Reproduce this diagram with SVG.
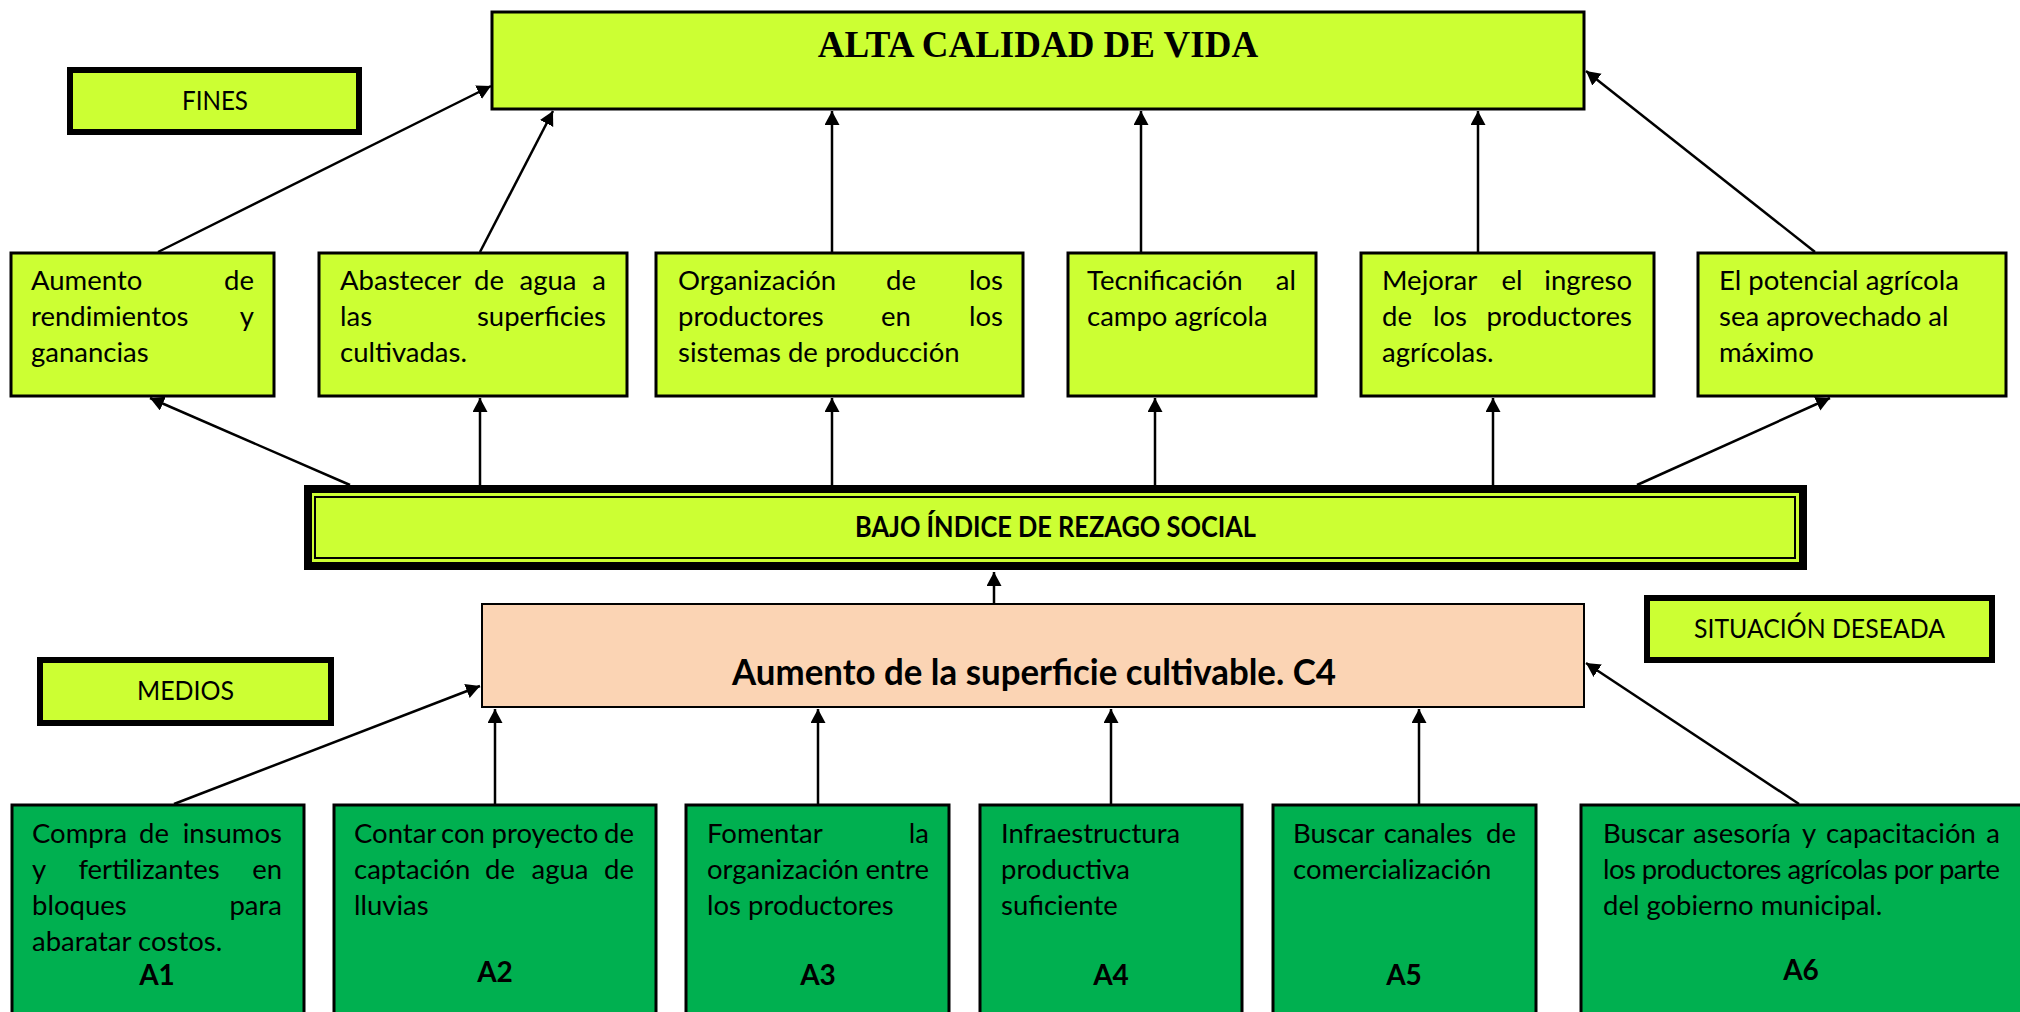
<svg xmlns="http://www.w3.org/2000/svg" width="2020" height="1012" viewBox="0 0 2020 1012">
<defs>
<marker id="ah" markerUnits="userSpaceOnUse" markerWidth="16" markerHeight="16" refX="14" refY="7.5" orient="auto">
<path d="M0,0 L14,7.5 L0,15 z" fill="#000"/>
</marker>
<style>
.lime{fill:#CCFF33;stroke:#000;stroke-width:3}
.grn{fill:#00B050;stroke:#000;stroke-width:3}
.tag{fill:#CCFF33;stroke:#000;stroke-width:6}
.t{font-family:Lato,"Open Sans",sans-serif;font-size:27.5px;fill:#000}
.b{font-family:Lato,"Open Sans",sans-serif;font-size:28px;font-weight:bold;fill:#000}
.e{text-anchor:end}
.m{text-anchor:middle}
.c line{stroke:#000;stroke-width:2.5;marker-end:url(#ah)}
</style>
</defs>
<rect width="2020" height="1012" fill="#fff"/>

<g id="connectors" class="c">
<line x1="158" y1="252" x2="491" y2="86"/>
<line x1="480" y1="252" x2="553" y2="111"/>
<line x1="832" y1="252" x2="832" y2="111"/>
<line x1="1141" y1="252" x2="1141" y2="111"/>
<line x1="1478" y1="252" x2="1478" y2="111"/>
<line x1="1815" y1="252" x2="1586" y2="71"/>
<line x1="350" y1="485" x2="150" y2="398"/>
<line x1="480" y1="485" x2="480" y2="398"/>
<line x1="832" y1="485" x2="832" y2="398"/>
<line x1="1155" y1="485" x2="1155" y2="398"/>
<line x1="1493" y1="485" x2="1493" y2="398"/>
<line x1="1637" y1="485" x2="1830" y2="398"/>
<line x1="994" y1="603" x2="994" y2="572"/>
<line x1="174" y1="804" x2="480" y2="686"/>
<line x1="495" y1="804" x2="495" y2="709"/>
<line x1="818" y1="804" x2="818" y2="709"/>
<line x1="1111" y1="804" x2="1111" y2="709"/>
<line x1="1419" y1="804" x2="1419" y2="709"/>
<line x1="1799" y1="804" x2="1586" y2="663"/>
</g>

<g id="alta">
<rect class="lime" x="492" y="12" width="1092" height="97"/>
<text x="1038" y="57" text-anchor="middle" font-family="'Liberation Serif',serif" font-weight="bold" font-size="37">ALTA CALIDAD DE VIDA</text>
</g>

<g id="fines">
<rect class="tag" x="70" y="70" width="289" height="62"/>
<text class="t" x="182" y="110" textLength="66" lengthAdjust="spacingAndGlyphs">FINES</text>
</g>

<g id="f1">
<rect class="lime" x="11" y="253" width="263" height="143"/>
<text class="t" x="31" y="290">Aumento</text><text class="t e" x="254" y="290">de</text>
<text class="t" x="31" y="326">rendimientos</text><text class="t e" x="254" y="326">y</text>
<text class="t" x="31" y="362">ganancias</text>
</g>

<g id="f2">
<rect class="lime" x="319" y="253" width="308" height="143"/>
<text class="t" x="340" y="290">Abastecer</text><text class="t m" x="489" y="290">de</text><text class="t m" x="548" y="290">agua</text><text class="t e" x="606" y="290">a</text>
<text class="t" x="340" y="326">las</text><text class="t e" x="606" y="326">superficies</text>
<text class="t" x="340" y="362">cultivadas.</text>
</g>

<g id="f3">
<rect class="lime" x="656" y="253" width="367" height="143"/>
<text class="t" x="678" y="290">Organización</text><text class="t m" x="901" y="290">de</text><text class="t e" x="1003" y="290">los</text>
<text class="t" x="678" y="326">productores</text><text class="t m" x="896" y="326">en</text><text class="t e" x="1003" y="326">los</text>
<text class="t" x="678" y="362">sistemas de producción</text>
</g>

<g id="f4">
<rect class="lime" x="1068" y="253" width="248" height="143"/>
<text class="t" x="1087" y="290">Tecnificación</text><text class="t e" x="1296" y="290">al</text>
<text class="t" x="1087" y="326">campo agrícola</text>
</g>

<g id="f5">
<rect class="lime" x="1361" y="253" width="293" height="143"/>
<text class="t" x="1382" y="290">Mejorar</text><text class="t m" x="1512" y="290">el</text><text class="t e" x="1632" y="290">ingreso</text>
<text class="t" x="1382" y="326">de</text><text class="t m" x="1450" y="326">los</text><text class="t e" x="1632" y="326">productores</text>
<text class="t" x="1382" y="362">agrícolas.</text>
</g>

<g id="f6">
<rect class="lime" x="1698" y="253" width="308" height="143"/>
<text class="t" x="1719" y="290">El potencial agrícola</text>
<text class="t" x="1719" y="326">sea aprovechado al</text>
<text class="t" x="1719" y="362">máximo</text>
</g>

<g id="bajo">
<rect x="308" y="489" width="1495" height="77" fill="#CCFF33" stroke="#000" stroke-width="8"/>
<rect x="315" y="497" width="1480" height="61" fill="none" stroke="#000" stroke-width="2"/>
<text class="b" x="855" y="537" textLength="401" lengthAdjust="spacingAndGlyphs">BAJO  ÍNDICE DE REZAGO SOCIAL</text>
</g>

<g id="situacion">
<rect class="tag" x="1647" y="598" width="345" height="62"/>
<text class="t" x="1694" y="638" textLength="251" lengthAdjust="spacingAndGlyphs">SITUACIÓN DESEADA</text>
</g>

<g id="medios">
<rect class="tag" x="40" y="660" width="291" height="63"/>
<text class="t" x="137" y="700" textLength="97" lengthAdjust="spacingAndGlyphs">MEDIOS</text>
</g>

<g id="c4">
<rect x="482" y="604" width="1102" height="103" fill="#FBD4B4" stroke="#000" stroke-width="2"/>
<text class="b" x="732" y="685" style="font-size:36px" textLength="604" lengthAdjust="spacingAndGlyphs">Aumento de la superficie cultivable. C4</text>
</g>

<g id="a1">
<rect class="grn" x="12" y="805" width="292" height="230"/>
<text class="t" x="32" y="843">Compra</text><text class="t m" x="154" y="843">de</text><text class="t e" x="282" y="843">insumos</text>
<text class="t" x="32" y="879">y</text><text class="t m" x="149" y="879">fertilizantes</text><text class="t e" x="282" y="879">en</text>
<text class="t" x="32" y="915">bloques</text><text class="t e" x="282" y="915">para</text>
<text class="t" x="32" y="951">abaratar costos.</text>
<text class="b m" x="157" y="985">A1</text>
</g>

<g id="a2">
<rect class="grn" x="334" y="805" width="322" height="230"/>
<text class="t" x="354" y="843">Contar</text><text class="t m" x="463" y="843">con</text><text class="t m" x="545" y="843">proyecto</text><text class="t e" x="634" y="843">de</text>
<text class="t" x="354" y="879">captación</text><text class="t m" x="500" y="879">de</text><text class="t m" x="560" y="879">agua</text><text class="t e" x="634" y="879">de</text>
<text class="t" x="354" y="915">lluvias</text>
<text class="b m" x="495" y="982">A2</text>
</g>

<g id="a3">
<rect class="grn" x="686" y="805" width="263" height="230"/>
<text class="t" x="707" y="843">Fomentar</text><text class="t e" x="929" y="843">la</text>
<text class="t" x="707" y="879">organización</text><text class="t e" x="929" y="879">entre</text>
<text class="t" x="707" y="915">los productores</text>
<text class="b m" x="818" y="985">A3</text>
</g>

<g id="a4">
<rect class="grn" x="980" y="805" width="262" height="230"/>
<text class="t" x="1001" y="843">Infraestructura</text>
<text class="t" x="1001" y="879">productiva</text>
<text class="t" x="1001" y="915">suficiente</text>
<text class="b m" x="1111" y="985">A4</text>
</g>

<g id="a5">
<rect class="grn" x="1273" y="805" width="263" height="230"/>
<text class="t" x="1293" y="843">Buscar</text><text class="t m" x="1428" y="843">canales</text><text class="t e" x="1516" y="843">de</text>
<text class="t" x="1293" y="879">comercialización</text>
<text class="b m" x="1404" y="985">A5</text>
</g>

<g id="a6">
<rect class="grn" x="1581" y="805" width="460" height="230"/>
<text class="t" x="1603" y="843">Buscar</text><text class="t m" x="1742" y="843">asesoría</text><text class="t m" x="1809" y="843">y</text><text class="t m" x="1901" y="843">capacitación</text><text class="t e" x="2000" y="843">a</text>
<text class="t" x="1603" y="879" textLength="397" lengthAdjust="spacing">los productores agrícolas por parte</text>
<text class="t" x="1603" y="915">del gobierno municipal.</text>
<text class="b m" x="1801" y="980">A6</text>
</g>
</svg>
